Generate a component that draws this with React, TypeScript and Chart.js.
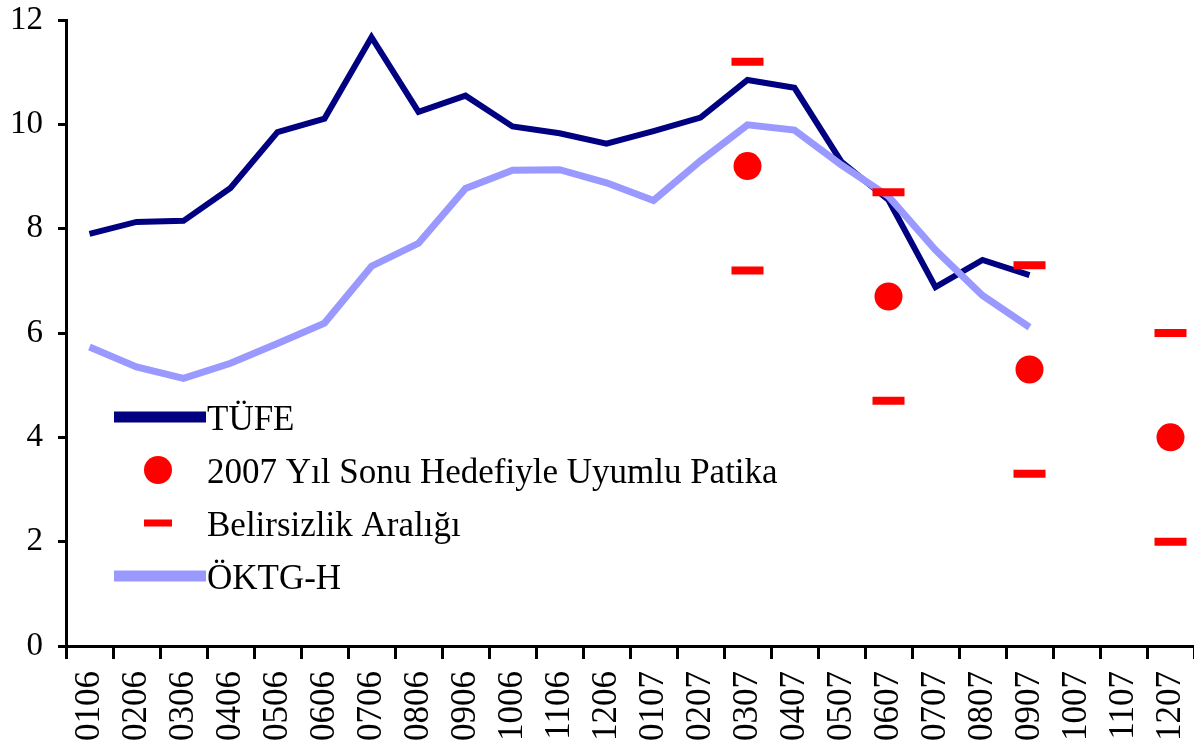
import React, { useEffect, useRef } from 'react';
import { Chart, registerables } from 'chart.js';

Chart.register(...registerables);

const categories = [
  '0106', '0206', '0306', '0406', '0506', '0606', '0706', '0806', '0906', '1006', '1106', '1206',
  '0107', '0207', '0307', '0407', '0507', '0607', '0707', '0807', '0907', '1007', '1107', '1207',
];

const tufe = [
  7.9, 8.13, 8.15, 8.78, 9.85, 10.11, 11.67, 10.24, 10.55, 9.96, 9.83, 9.63,
  9.87, 10.13, 10.85, 10.7, 9.28, 8.55, 6.88, 7.4, 7.11, null, null, null,
];

const oktgh = [
  5.73, 5.35, 5.13, 5.42, 5.8, 6.19, 7.28, 7.72, 8.77, 9.12, 9.13, 8.88,
  8.54, 9.3, 9.99, 9.89, 9.22, 8.62, 7.59, 6.72, 6.11, null, null, null,
];

const patika = [
  null, null, null, null, null, null, null, null, null, null, null, null,
  null, null, 9.2, null, null, 6.7, null, null, 5.3, null, null, 4.0,
];

const bandUpper = [
  null, null, null, null, null, null, null, null, null, null, null, null,
  null, null, 11.2, null, null, 8.7, null, null, 7.3, null, null, 6.0,
];

const bandLower = [
  null, null, null, null, null, null, null, null, null, null, null, null,
  null, null, 7.2, null, null, 4.7, null, null, 3.3, null, null, 2.0,
];

const NAVY = '#000080';
const LIGHT = '#9999FF';
const RED = '#FF0000';
const FONT = "'Liberation Serif', 'Times New Roman', serif";

const legendItems = [
  { label: 'TÜFE', kind: 'line', color: NAVY },
  { label: '2007 Yıl Sonu Hedefiyle Uyumlu Patika', kind: 'dot', color: RED },
  { label: 'Belirsizlik Aralığı', kind: 'dash', color: RED },
  { label: 'ÖKTG-H', kind: 'line', color: LIGHT },
];

const legendPlugin = {
  id: 'customLegend',
  afterDraw(chart: any) {
    const { ctx, chartArea } = chart;
    const x0 = chartArea.left + 48;
    const x1 = chartArea.left + 140;
    const tx = chartArea.left + 141;
    ctx.save();
    ctx.font = `35px ${FONT}`;
    ctx.textBaseline = 'alphabetic';
    ctx.textAlign = 'left';
    legendItems.forEach((item, i) => {
      const base = chartArea.top + 410 + i * 53;
      const cy = base - 13;
      if (item.kind === 'line') {
        ctx.fillStyle = item.color;
        ctx.fillRect(x0, cy - 5.5, x1 - x0, 11);
      } else if (item.kind === 'dot') {
        ctx.fillStyle = item.color;
        ctx.beginPath();
        ctx.arc((x0 + x1) / 2 - 2, cy, 14, 0, Math.PI * 2);
        ctx.fill();
      } else {
        ctx.fillStyle = item.color;
        ctx.fillRect((x0 + x1) / 2 - 16, cy - 3.5, 28, 7);
      }
      ctx.fillStyle = '#000';
      ctx.fillText(item.label, tx, base);
    });
    ctx.restore();
  },
};

const clearPadding = (s: any) => {
  s.paddingTop = 0;
  s.paddingBottom = 0;
  s.paddingLeft = 0;
  s.paddingRight = 0;
};

export default function App() {
  const canvasRef = useRef<HTMLCanvasElement | null>(null);

  useEffect(() => {
    if (!canvasRef.current) return;
    const chart = new Chart(canvasRef.current, {
      type: 'line',
      data: {
        labels: categories,
        datasets: [
          {
            label: 'Belirsizlik Aralığı (üst)',
            data: bandUpper,
            showLine: false,
            pointStyle: 'line',
            pointRadius: 16,
            pointBorderWidth: 8,
            borderWidth: 8,
            borderColor: RED,
            pointBorderColor: RED,
            backgroundColor: RED,
            order: 0,
          },
          {
            label: 'Belirsizlik Aralığı (alt)',
            data: bandLower,
            showLine: false,
            pointStyle: 'line',
            pointRadius: 16,
            pointBorderWidth: 8,
            borderWidth: 8,
            borderColor: RED,
            pointBorderColor: RED,
            backgroundColor: RED,
            order: 0,
          },
          {
            label: '2007 Yıl Sonu Hedefiyle Uyumlu Patika',
            data: patika,
            showLine: false,
            pointStyle: 'circle',
            pointRadius: 14,
            pointBorderWidth: 0,
            pointBackgroundColor: RED,
            borderColor: RED,
            backgroundColor: RED,
            order: 0,
          },
          {
            label: 'ÖKTG-H',
            data: oktgh,
            borderColor: LIGHT,
            borderWidth: 7,
            pointRadius: 0,
            tension: 0,
            fill: false,
            order: 1,
          },
          {
            label: 'TÜFE',
            data: tufe,
            borderColor: NAVY,
            borderWidth: 6,
            pointRadius: 0,
            tension: 0,
            fill: false,
            order: 2,
          },
        ],
      },
      options: {
        animation: false,
        responsive: false,
        maintainAspectRatio: false,
        layout: { autoPadding: false, padding: { top: 20, left: 0, right: 0, bottom: 0 } },
        plugins: {
          legend: { display: false },
          tooltip: { enabled: false },
        },
        scales: {
          x: {
            type: 'category',
            offset: true,
            grid: {
              offset: true,
              drawOnChartArea: false,
              drawTicks: true,
              tickLength: 13,
              lineWidth: 3,
              color: '#000',
            },
            border: { display: true, color: '#000', width: 3 },
            ticks: {
              autoSkip: false,
              minRotation: 90,
              maxRotation: 90,
              padding: 12,
              color: '#000',
              font: { family: FONT, size: 35, lineHeight: 1 },
            },
            afterFit: (s: any) => {
              s.height = 103;
              clearPadding(s);
            },
          },
          y: {
            min: 0,
            max: 12,
            ticks: {
              stepSize: 2,
              padding: 15,
              color: '#000',
              font: { family: FONT, size: 33, lineHeight: 1 },
            },
            grid: {
              drawOnChartArea: false,
              drawTicks: true,
              tickLength: 8,
              lineWidth: 3,
              color: '#000',
            },
            border: { display: true, color: '#000', width: 3 },
            afterFit: (s: any) => {
              s.width = 66;
              clearPadding(s);
            },
          },
        },
      },
      plugins: [legendPlugin],
    } as any);
    return () => chart.destroy();
  }, []);

  return (
    <div style={{ position: 'fixed', left: 0, top: 0, width: 1194, height: 749, background: '#fff' }}>
      <canvas ref={canvasRef} width={1194} height={749} style={{ display: 'block' }} />
    </div>
  );
}
